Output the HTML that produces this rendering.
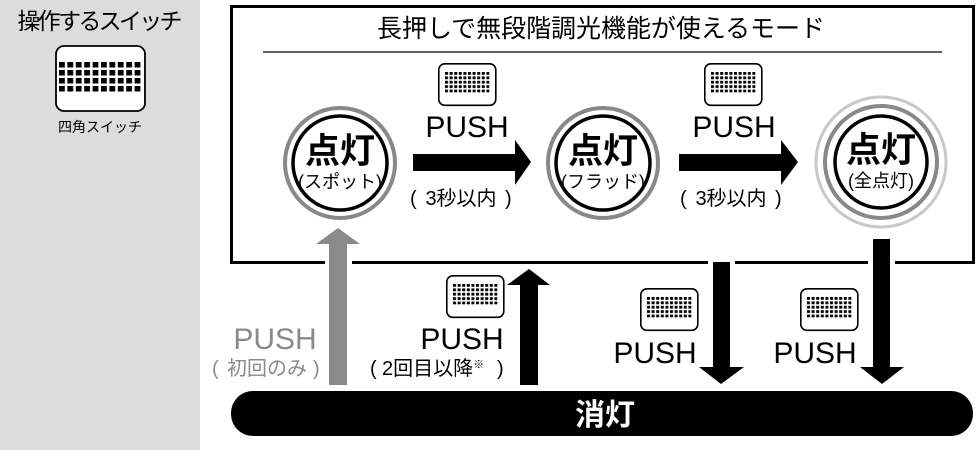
<!DOCTYPE html>
<html><head><meta charset="utf-8"><style>
html,body{margin:0;padding:0;background:#fff}
svg{display:block}
text{font-family:"Liberation Sans","Noto Sans CJK JP",sans-serif}
</style></head><body>
<svg width="980" height="450" viewBox="0 0 980 450" xmlns="http://www.w3.org/2000/svg">
<defs>
<pattern id="dl" x="59" y="62" width="8.4" height="8" patternUnits="userSpaceOnUse"><rect width="5.8" height="5.5" fill="#000"/></pattern>
<pattern id="ds" x="7" y="9" width="4.6" height="4.4" patternUnits="userSpaceOnUse"><rect width="3" height="2.8" fill="#000"/></pattern>
<g id="sw">
<rect x="0.8" y="0.8" width="57" height="41.5" rx="6" fill="#fff" stroke="#000" stroke-width="1.6"/>
<rect x="7" y="9" width="44.4" height="20.4" fill="url(#ds)"/>
</g>
</defs>
<rect x="0" y="0" width="200" height="450" fill="#dcdcdc"/>
<text x="100" y="29" font-size="23" text-anchor="middle" textLength="165">操作するスイッチ</text>
<rect x="56" y="46" width="89" height="65" rx="8" fill="#fff" stroke="#000" stroke-width="1.8"/>
<rect x="59" y="62" width="83.8" height="29.5" fill="url(#dl)"/>
<text x="100" y="132" font-size="14" text-anchor="middle">四角スイッチ</text>

<rect x="231.5" y="6.5" width="742" height="256" fill="#fff" stroke="#000" stroke-width="3"/>
<text x="377" y="37" font-size="25" textLength="448">長押しで無段階調光機能が使えるモード</text>
<line x1="263" y1="52" x2="942" y2="52" stroke="#000" stroke-width="1.3"/>

<circle cx="340" cy="163" r="55" fill="#fff" stroke="#888" stroke-width="4"/>
<circle cx="340" cy="163" r="47" fill="#fff" stroke="#000" stroke-width="3.5"/>
<text x="340" y="163" font-size="35" font-weight="bold" text-anchor="middle">点灯</text>
<text x="340" y="188" font-size="18" text-anchor="middle">(スポット)</text>

<circle cx="603" cy="163" r="55" fill="#fff" stroke="#888" stroke-width="4"/>
<circle cx="603" cy="163" r="47" fill="#fff" stroke="#000" stroke-width="3.5"/>
<text x="603" y="163" font-size="35" font-weight="bold" text-anchor="middle">点灯</text>
<text x="603" y="188" font-size="18" text-anchor="middle">(フラッド)</text>

<circle cx="881" cy="162" r="65" fill="#fff" stroke="#c8c8c8" stroke-width="3"/>
<circle cx="881" cy="162" r="56" fill="#fff" stroke="#888" stroke-width="4"/>
<circle cx="881" cy="162" r="46" fill="#fff" stroke="#000" stroke-width="3.5"/>
<text x="881" y="162" font-size="35" font-weight="bold" text-anchor="middle">点灯</text>
<text x="881" y="187" font-size="18" text-anchor="middle">(全点灯)</text>

<polygon points="413,154 515,154 515,140 531,162 515,185 515,171 413,171" fill="#000"/>
<polygon points="679,154 781,154 781,140 798,162 781,185 781,171 679,171" fill="#000"/>
<use href="#sw" x="438" y="63"/>
<use href="#sw" x="704" y="63"/>
<text x="467" y="137" font-size="30" text-anchor="middle">PUSH</text>
<text x="734" y="137" font-size="30" text-anchor="middle">PUSH</text>
<text x="410" y="205" font-size="20">(</text><text x="461" y="205" font-size="20" text-anchor="middle">3秒以内</text><text x="505" y="205" font-size="20">)</text>
<text x="680" y="205" font-size="20">(</text><text x="731" y="205" font-size="20" text-anchor="middle">3秒以内</text><text x="775" y="205" font-size="20">)</text>

<rect x="325" y="258" width="27" height="8" fill="#fff"/>
<rect x="708" y="258" width="27" height="8" fill="#fff"/>
<rect x="868" y="258" width="27" height="8" fill="#fff"/>

<polygon points="338,228 360,244 347,244 347,385 329,385 329,244 316,244" fill="#8a8a8a"/>
<polygon points="529,269 550,285 538,285 538,385 520,385 520,285 507,285" fill="#000"/>
<polygon points="713,262 730,262 730,367 744,367 721,384 699,367 713,367" fill="#000"/>
<polygon points="873,239 890,239 890,367 904,367 882,384 860,367 873,367" fill="#000"/>

<use href="#sw" x="446" y="275"/>
<use href="#sw" x="640" y="288"/>
<use href="#sw" x="800" y="288"/>
<text x="275" y="349" font-size="30" text-anchor="middle" fill="#8a8a8a">PUSH</text>
<g fill="#8a8a8a"><text x="212" y="375" font-size="20">(</text><text x="267" y="375" font-size="20" text-anchor="middle">初回のみ</text><text x="313" y="375" font-size="20">)</text></g>
<text x="462" y="349" font-size="30" text-anchor="middle">PUSH</text>
<text x="370" y="375" font-size="20">(</text><text x="382" y="375" font-size="20">2回目以降<tspan font-size="11" dy="-7">※</tspan></text><text x="497" y="375" font-size="20">)</text>
<text x="655" y="363" font-size="30" text-anchor="middle">PUSH</text>
<text x="815" y="363" font-size="30" text-anchor="middle">PUSH</text>

<rect x="231" y="391" width="742" height="45" rx="22" fill="#000"/>
<text x="605" y="425" font-size="30" font-weight="bold" fill="#fff" text-anchor="middle">消灯</text>
</svg>
</body></html>
